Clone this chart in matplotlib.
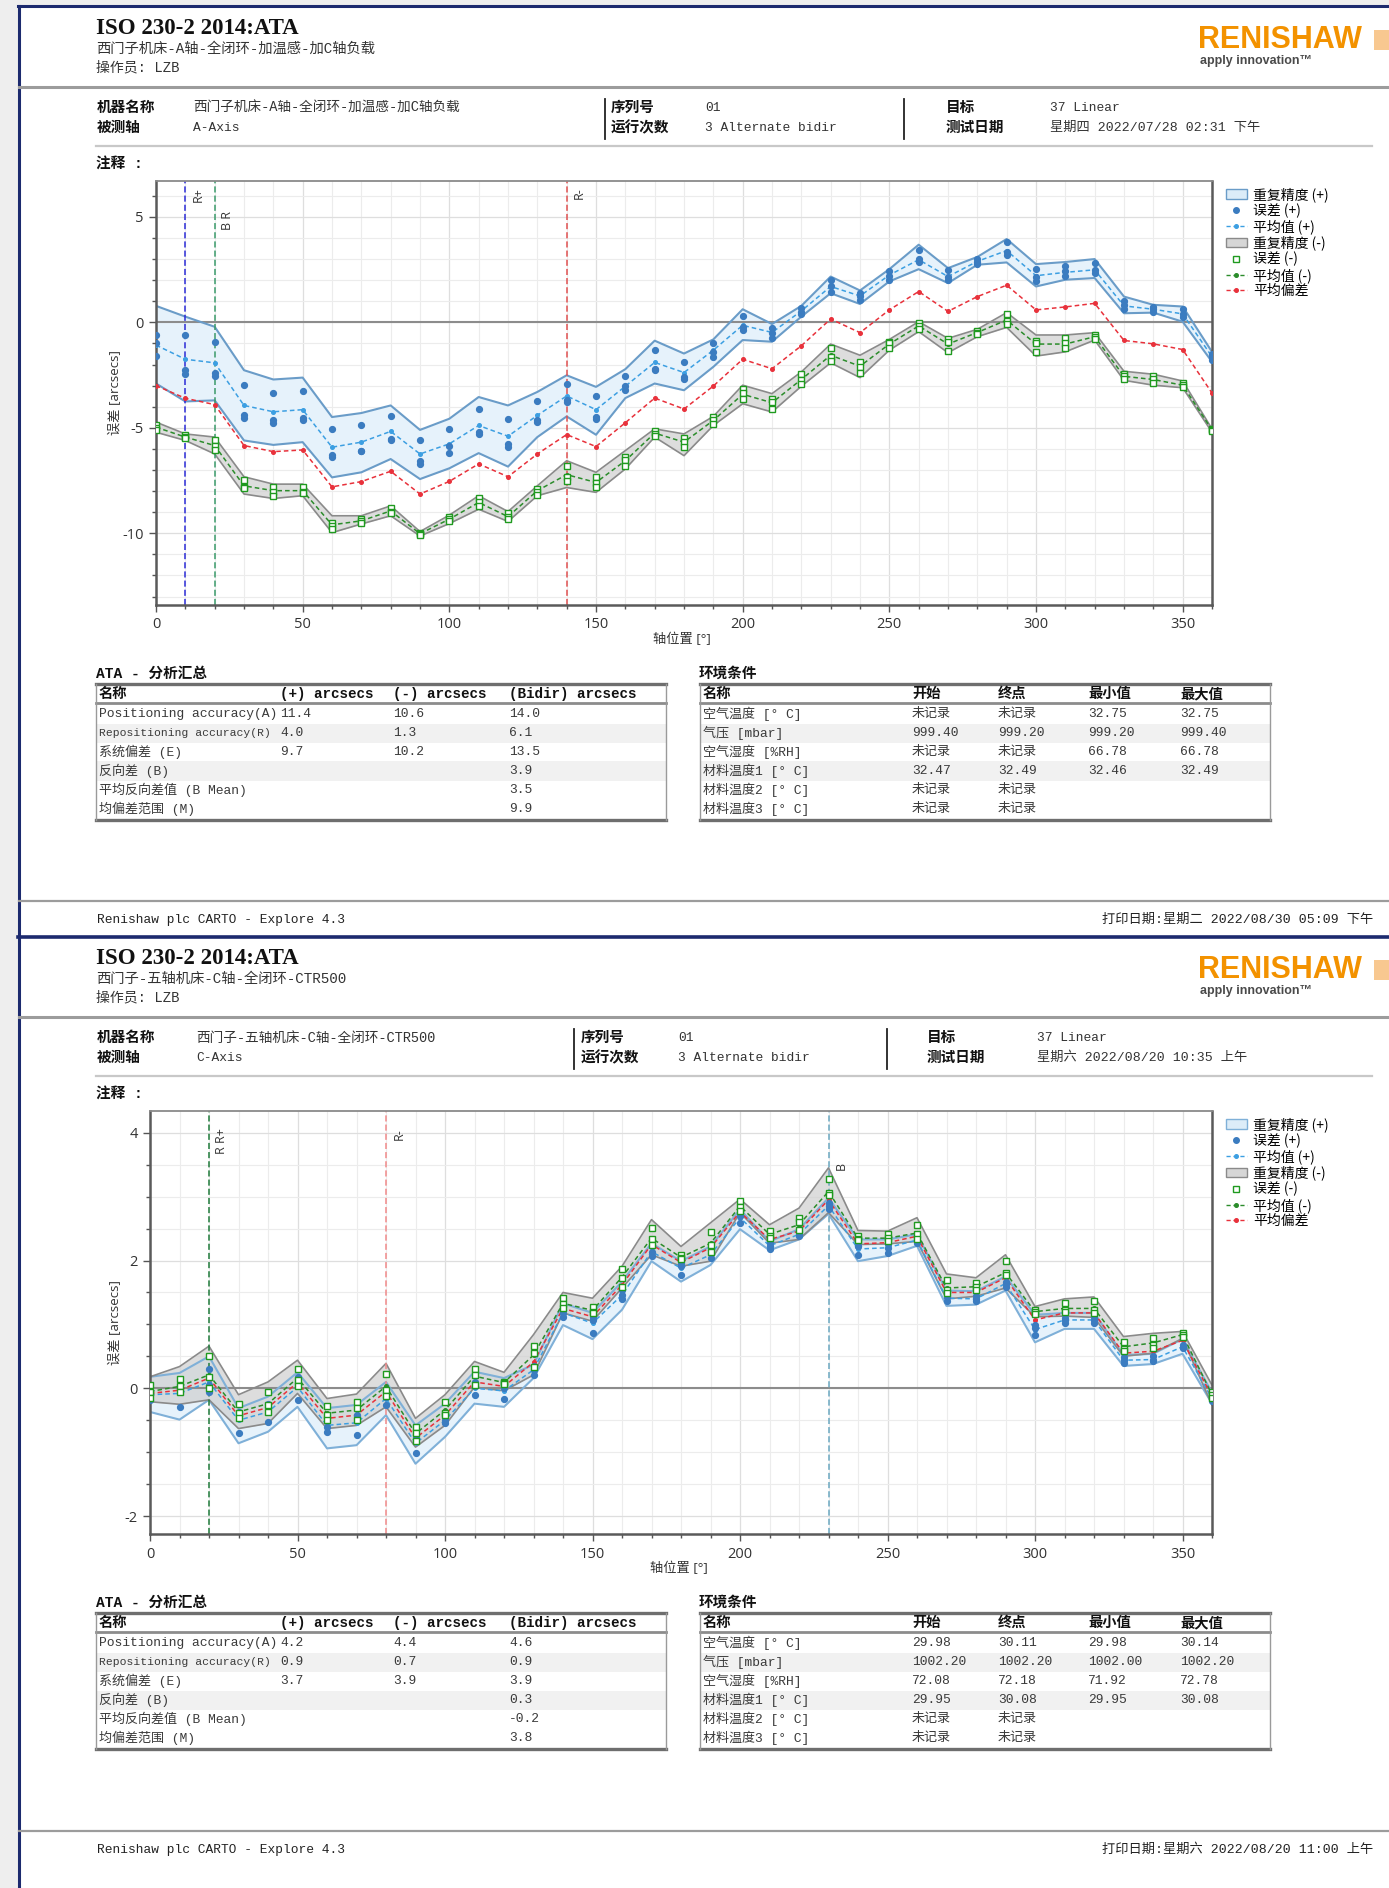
import numpy as np
import matplotlib
matplotlib.use("Agg")
import matplotlib.pyplot as plt
import matplotlib.transforms as mtrans
from matplotlib.lines import Line2D
from matplotlib.patches import Patch, Rectangle
from matplotlib.ticker import MultipleLocator
from matplotlib.font_manager import FontProperties

plt.rcParams['axes.unicode_minus'] = False

W, H = 1389, 1888
MIX = ['Liberation Mono', 'Noto Sans CJK SC']
SANS = ['Open Sans', 'Noto Sans CJK SC']
CJK = ['Noto Sans CJK SC']

# ---------------- data ----------------
POS = [0, 10, 20, 30, 40, 50, 60, 70, 80, 90, 100, 110, 120, 130, 140, 150, 160, 170, 180,
       190, 200, 210, 220, 230, 240, 250, 260, 270, 280, 290, 300, 310, 320, 330, 340, 350, 360]

# A axis (page 1)
a_bias = [-3.0, -3.6, -3.9, -5.84, -6.13, -6.05, -7.8, -7.55, -7.06, -8.14, -7.54, -6.71, -7.32,
          -6.24, -5.32, -5.89, -4.76, -3.59, -4.11, -3.02, -1.75, -2.2, -1.11, 0.16, -0.49, 0.59,
          1.46, 0.52, 1.22, 1.76, 0.59, 0.73, 0.9, -0.86, -1.02, -1.29, -3.35]
a_mean_p = [-1.08, -1.75, -1.92, -3.94, -4.24, -4.14, -5.92, -5.68, -5.17, -6.24, -5.76, -4.89, -5.4,
            -4.41, -3.49, -4.14, -3.03, -1.9, -2.38, -1.32, -0.14, -0.48, 0.54, 1.7, 1.25, 2.24,
            2.97, 2.17, 2.89, 3.4, 2.21, 2.37, 2.49, 0.78, 0.62, 0.4, -1.63]
a_up_p = [0.78, 0.27, -0.21, -2.27, -2.71, -2.62, -4.49, -4.3, -3.94, -5.1, -4.57, -3.54, -3.94,
          -3.3, -2.51, -3.06, -2.22, -0.87, -1.48, -0.81, 0.62, -0.08, 0.78, 2.17, 1.51, 2.52,
          3.68, 2.57, 3.1, 3.95, 2.76, 2.86, 3.0, 1.22, 0.83, 0.75, -1.4]
a_lo_p = [-2.9, -3.75, -3.7, -5.6, -5.81, -5.68, -7.35, -7.11, -6.48, -7.43, -6.92, -6.2, -6.84,
          -5.44, -4.46, -5.33, -3.59, -2.9, -3.22, -2.11, -0.84, -0.92, 0.27, 1.38, 0.87, 1.94,
          2.52, 1.86, 2.73, 2.84, 1.7, 2.02, 2.1, 0.43, 0.46, 0.03, -1.87]
a_mean_m = [-4.97, -5.44, -5.84, -7.75, -7.98, -7.98, -9.6, -9.41, -8.94, -10.02, -9.33, -8.54, -9.21,
            -7.98, -7.22, -7.59, -6.56, -5.25, -5.68, -4.65, -3.41, -3.81, -2.71, -1.56, -2.08, -1.03,
            -0.17, -1.03, -0.48, 0.11, -1.03, -1.03, -0.68, -2.56, -2.71, -2.98, -5.1]
a_up_m = [-4.73, -5.29, -5.44, -7.32, -7.67, -7.67, -9.17, -9.17, -8.7, -9.92, -9.14, -8.22, -8.97,
          -7.75, -6.56, -7.11, -6.08, -5.05, -5.29, -4.46, -2.98, -3.38, -2.35, -1.03, -1.56, -0.81,
          0.03, -0.76, -0.33, 0.46, -0.6, -0.6, -0.49, -2.32, -2.46, -2.78, -5.05]
a_lo_m = [-5.21, -5.6, -6.24, -8.14, -8.35, -8.22, -9.97, -9.56, -9.17, -10.13, -9.54, -8.86, -9.44,
          -8.22, -7.83, -8.06, -6.95, -5.44, -6.32, -4.89, -3.86, -4.25, -3.03, -1.92, -2.62, -1.32,
          -0.44, -1.44, -0.68, -0.24, -1.6, -1.4, -0.84, -2.75, -2.98, -3.1, -5.21]
a_runs_p = [(-0.6, -1.0, -1.6), (-0.6, -2.27, -2.46), (-0.95, -2.38, -2.54), (-2.95, -4.38, -4.52),
            (-3.35, -4.65, -4.76), (-3.25, -4.52, -4.65), (-5.05, -6.29, -6.37), (-4.89, -6.08, -6.1),
            (-4.44, -5.52, -5.6), (-5.57, -6.56, -6.71), (-5.05, -5.85, -6.2), (-4.1, -5.21, -5.29),
            (-4.57, -5.76, -5.89), (-3.75, -4.62, -4.73), (-2.9, -3.67, -3.78), (-3.51, -4.49, -4.57),
            (-2.54, -3.03, -3.22), (-1.32, -2.19, -2.27), (-1.87, -2.59, -2.71), (-1.0, -1.4, -1.63),
            (0.32, -0.21, -0.37), (-0.25, -0.49, -0.76), (0.67, 0.51, 0.4), (2.0, 1.7, 1.45),
            (1.41, 1.25, 1.06), (2.41, 2.21, 2.02), (3.44, 3.0, 2.84), (2.46, 2.17, 2.02),
            (3.0, 2.87, 2.78), (3.79, 3.32, 3.21), (2.52, 2.14, 1.98), (2.65, 2.41, 2.21),
            (2.81, 2.49, 2.33), (1.03, 0.83, 0.62), (0.71, 0.62, 0.51), (0.62, 0.4, 0.24),
            (-1.51, -1.63, -1.79)]
a_runs_m = [(-4.85, -5.0, -5.1), (-5.35, -5.45, -5.5), (-5.6, -5.85, -6.05), (-7.48, -7.79, -7.86),
            (-7.79, -8.06, -8.22), (-7.79, -8.02, -8.11), (-9.49, -9.65, -9.81), (-9.33, -9.41, -9.52),
            (-8.81, -8.97, -9.06), (-9.98, -10.03, -10.06), (-9.25, -9.33, -9.44), (-8.35, -8.54, -8.7),
            (-9.06, -9.21, -9.33), (-7.9, -8.02, -8.17), (-6.8, -7.35, -7.5), (-7.32, -7.63, -7.79),
            (-6.37, -6.52, -6.79), (-5.13, -5.29, -5.37), (-5.5, -5.65, -5.9), (-4.5, -4.65, -4.8),
            (-3.14, -3.35, -3.62), (-3.62, -3.78, -4.1), (-2.45, -2.75, -2.93), (-1.2, -1.65, -1.83),
            (-1.87, -2.11, -2.4), (-0.92, -1.0, -1.24), (-0.05, -0.17, -0.33), (-0.8, -0.95, -1.35),
            (-0.4, -0.49, -0.56), (0.38, 0.08, -0.08), (-0.87, -1.0, -1.4), (-0.76, -1.0, -1.24),
            (-0.6, -0.68, -0.81), (-2.43, -2.56, -2.7), (-2.56, -2.71, -2.86), (-2.87, -2.98, -3.06),
            (-5.05, -5.1, -5.15)]

# C axis (page 2)
c_bias = [-0.08, -0.03, 0.16, -0.43, -0.3, 0.09, -0.47, -0.42, -0.05, -0.78, -0.42, 0.1, 0.03,
          0.41, 1.25, 1.12, 1.62, 2.25, 1.97, 2.2, 2.76, 2.33, 2.46, 2.95, 2.26, 2.28, 2.38, 1.5,
          1.5, 1.73, 1.07, 1.18, 1.18, 0.55, 0.58, 0.75, -0.13]
c_mean_p = [-0.1, -0.08, 0.1, -0.5, -0.37, 0.02, -0.58, -0.54, -0.16, -0.86, -0.5, 0.0, -0.04,
            0.29, 1.18, 1.02, 1.46, 2.14, 1.88, 2.09, 2.67, 2.23, 2.41, 2.86, 2.18, 2.2, 2.32, 1.41,
            1.4, 1.64, 0.92, 1.07, 1.07, 0.44, 0.45, 0.65, -0.16]
c_up_p = [0.18, 0.24, 0.5, -0.31, -0.13, 0.25, -0.31, -0.26, 0.1, -0.58, -0.24, 0.26, 0.16,
          0.37, 1.33, 1.18, 1.67, 2.27, 1.99, 2.22, 2.8, 2.3, 2.49, 2.98, 2.33, 2.33, 2.41, 1.53,
          1.52, 1.75, 1.15, 1.18, 1.18, 0.52, 0.54, 0.77, -0.07]
c_lo_p = [-0.37, -0.49, -0.18, -0.86, -0.68, -0.29, -0.94, -0.89, -0.42, -1.18, -0.76, -0.24, -0.29,
          0.16, 0.99, 0.77, 1.23, 1.99, 1.67, 1.93, 2.49, 2.16, 2.33, 2.73, 1.99, 2.07, 2.23, 1.29,
          1.31, 1.53, 0.72, 0.93, 0.93, 0.35, 0.38, 0.54, -0.24]
c_mean_m = [-0.05, 0.03, 0.21, -0.37, -0.24, 0.16, -0.39, -0.34, 0.03, -0.71, -0.34, 0.19, 0.09,
            0.52, 1.33, 1.22, 1.74, 2.35, 2.05, 2.27, 2.85, 2.41, 2.56, 3.08, 2.35, 2.35, 2.43, 1.57,
            1.59, 1.81, 1.2, 1.25, 1.25, 0.65, 0.71, 0.84, -0.1]
c_up_m = [0.18, 0.34, 0.66, -0.1, 0.1, 0.44, -0.16, -0.09, 0.39, -0.47, -0.1, 0.42, 0.25,
          0.84, 1.5, 1.41, 1.91, 2.64, 2.22, 2.59, 2.96, 2.56, 2.82, 3.45, 2.47, 2.46, 2.67, 1.79,
          1.73, 2.09, 1.28, 1.4, 1.43, 0.81, 0.86, 0.89, 0.05]
c_lo_m = [-0.21, -0.25, -0.18, -0.63, -0.55, -0.08, -0.63, -0.58, -0.29, -0.92, -0.58, 0.02, -0.04,
          0.21, 1.18, 1.05, 1.57, 2.09, 1.91, 1.99, 2.75, 2.27, 2.33, 2.75, 2.25, 2.26, 2.3, 1.4,
          1.44, 1.57, 1.12, 1.13, 1.11, 0.5, 0.55, 0.78, -0.26]
c_runs_p = [(-0.02, -0.1, -0.18), (0.05, 0.0, -0.3), (0.3, 0.05, -0.05), (-0.37, -0.42, -0.7),
            (-0.24, -0.29, -0.52), (0.18, 0.08, -0.18), (-0.44, -0.6, -0.68), (-0.42, -0.44, -0.73),
            (-0.05, -0.13, -0.26), (-0.71, -0.76, -1.01), (-0.39, -0.5, -0.55), (0.1, 0.03, -0.1),
            (0.03, 0.0, -0.16), (0.35, 0.29, 0.21), (1.22, 1.18, 1.12), (1.12, 1.07, 0.87),
            (1.54, 1.46, 1.39), (2.22, 2.14, 2.07), (1.96, 1.92, 1.78), (2.17, 2.12, 2.04),
            (2.72, 2.69, 2.59), (2.27, 2.23, 2.18), (2.44, 2.41, 2.38), (2.9, 2.86, 2.81),
            (2.23, 2.22, 2.08), (2.26, 2.2, 2.12), (2.35, 2.32, 2.27), (1.45, 1.43, 1.36),
            (1.44, 1.4, 1.36), (1.67, 1.64, 1.59), (0.99, 0.94, 0.84), (1.1, 1.07, 1.03),
            (1.11, 1.07, 1.02), (0.49, 0.45, 0.39), (0.5, 0.45, 0.42), (0.68, 0.65, 0.63),
            (-0.12, -0.16, -0.2)]
c_runs_m = [(0.05, -0.05, -0.15), (0.14, 0.04, -0.05), (0.5, 0.18, 0.0), (-0.24, -0.39, -0.47),
            (-0.05, -0.26, -0.37), (0.31, 0.13, 0.03), (-0.28, -0.42, -0.49), (-0.22, -0.31, -0.5),
            (0.22, -0.03, -0.12), (-0.6, -0.7, -0.83), (-0.22, -0.39, -0.42), (0.31, 0.21, 0.05),
            (0.1, 0.08, 0.07), (0.66, 0.55, 0.34), (1.41, 1.32, 1.25), (1.28, 1.2, 1.18),
            (1.86, 1.73, 1.58), (2.51, 2.33, 2.25), (2.09, 2.04, 2.02), (2.44, 2.25, 2.14),
            (2.93, 2.84, 2.77), (2.46, 2.39, 2.35), (2.67, 2.61, 2.47), (3.28, 3.05, 3.02),
            (2.38, 2.34, 2.32), (2.41, 2.35, 2.3), (2.56, 2.41, 2.33), (1.69, 1.54, 1.49),
            (1.65, 1.59, 1.54), (1.99, 1.81, 1.78), (1.22, 1.19, 1.17), (1.33, 1.23, 1.2),
            (1.36, 1.23, 1.18), (0.73, 0.61, 0.59), (0.78, 0.68, 0.63), (0.86, 0.84, 0.81),
            (-0.05, -0.1, -0.15)]

# tables
ata_names = ["Positioning accuracy(A)", "Repositioning accuracy(R)", "系统偏差 (E)",
             "反向差 (B)", "平均反向差值 (B Mean)", "均偏差范围 (M)"]
ata_head = ["名称", "(+) arcsecs", "(-) arcsecs", "(Bidir) arcsecs"]
a_ata_plus = ["11.4", "4.0", "9.7", "", "", ""]
a_ata_minus = ["10.6", "1.3", "10.2", "", "", ""]
a_ata_bidir = ["14.0", "6.1", "13.5", "3.9", "3.5", "9.9"]
c_ata_plus = ["4.2", "0.9", "3.7", "", "", ""]
c_ata_minus = ["4.4", "0.7", "3.9", "", "", ""]
c_ata_bidir = ["4.6", "0.9", "3.9", "0.3", "-0.2", "3.8"]

env_names = ["空气温度 [° C]", "气压 [mbar]", "空气湿度 [%RH]",
             "材料温度1 [° C]", "材料温度2 [° C]", "材料温度3 [° C]"]
env_head = ["名称", "开始", "终点", "最小值", "最大值"]
a_env_start = ["未记录", "999.40", "未记录", "32.47", "未记录", "未记录"]
a_env_end = ["未记录", "999.20", "未记录", "32.49", "未记录", "未记录"]
a_env_min = ["32.75", "999.20", "66.78", "32.46", "", ""]
a_env_max = ["32.75", "999.40", "66.78", "32.49", "", ""]
c_env_start = ["29.98", "1002.20", "72.08", "29.95", "未记录", "未记录"]
c_env_end = ["30.11", "1002.20", "72.18", "30.08", "未记录", "未记录"]
c_env_min = ["29.98", "1002.00", "71.92", "29.95", "", ""]
c_env_max = ["30.14", "1002.20", "72.78", "30.08", "", ""]

# ---------------- helpers ----------------
fig = plt.figure(figsize=(W / 100, H / 100), dpi=100)
fig.patch.set_facecolor('white')


def fx(x):
    return x / W


def fy(y):
    return 1 - y / H


def put(x, y, s, size=9.5, weight='normal', color='#333333', ha='left', family=MIX, **kw):
    return fig.text(fx(x), fy(y), s, fontsize=size, fontweight=weight, color=color,
                    ha=ha, va='center', family=family, **kw)


def hline(y, x0, x1, color, lw):
    fig.add_artist(Line2D([fx(x0), fx(x1)], [fy(y), fy(y)], color=color, lw=lw,
                          transform=fig.transFigure))


def vline(x, y0, y1, color, lw):
    fig.add_artist(Line2D([fx(x), fx(x)], [fy(y0), fy(y1)], color=color, lw=lw,
                          transform=fig.transFigure))


def rect(x0, y0, x1, y1, color):
    fig.add_artist(Rectangle((fx(x0), fy(y1)), fx(x1) - fx(x0), fy(y0) - fy(y1),
                             facecolor=color, edgecolor='none', transform=fig.transFigure, zorder=0))


def draw_header(off, subtitle, machine, axis_name, test_date, cols):
    put(96, 29 + off, 'ISO 230-2 2014:ATA', size=16.5, weight='bold', color='#111111',
        family=['Liberation Serif'])
    put(96, 49 + off, subtitle, size=10.3)
    put(96, 67 + off, '操作员: LZB', size=10)
    put(1198, 40 + off, 'RENISHAW', size=22, weight='bold', color='#f39200', family=['Liberation Sans'])
    rect(1374, 30 + off, 1389, 50 + off, '#f8c890')
    put(1200, 61 + off, 'apply innovation\u2122', size=9, weight='bold', color='#4a4a4a',
        family=['Liberation Sans'])
    hline(87 + off, 19, W, '#9c9c9c', 2.2)
    lab, val, sep1, sn, snv, sep2, tg, tgv = cols
    put(lab, 108 + off, '机器名称', size=10.5, weight='bold', color='#111111')
    put(lab, 128 + off, '被测轴', size=10.5, weight='bold', color='#111111')
    put(val, 108 + off, machine, size=9.8)
    put(val, 128 + off, axis_name, size=9.3)
    vline(sep1, 99 + off, 139 + off, '#222222', 1.3)
    put(sn, 108 + off, '序列号', size=10.5, weight='bold', color='#111111')
    put(sn, 128 + off, '运行次数', size=10.5, weight='bold', color='#111111')
    put(snv, 108 + off, '01', size=9.3)
    put(snv, 128 + off, '3 Alternate bidir', size=9.3)
    vline(sep2, 99 + off, 139 + off, '#222222', 1.3)
    put(tg, 108 + off, '目标', size=10.5, weight='bold', color='#111111')
    put(tg, 128 + off, '测试日期', size=10.5, weight='bold', color='#111111')
    put(tgv, 108 + off, '37 Linear', size=9.3)
    put(tgv, 128 + off, test_date, size=9.5)
    hline(146 + off, 96, 1372, '#c8c8c8', 1.6)
    put(96, 164 + off, '注释 :', size=10.5, weight='bold', color='#111111')


def draw_footer(off, print_date):
    hline(901 + off, 19, W, '#9c9c9c', 1.6)
    put(97, 920 + off, 'Renishaw plc CARTO - Explore 4.3', size=9.3, color='#222222')
    put(1102, 920 + off, print_date, size=9.5, color='#222222')


def draw_chart(box, ylim, ymaj, ymin, runs_p, mean_p, up_p, lo_p, runs_m, mean_m, up_m, lo_m,
               bias, marks, edge_p):
    x0, y0, x1, y1 = box
    ax = fig.add_axes([fx(x0), fy(y1), fx(x1) - fx(x0), fy(y0) - fy(y1)])
    ax.set_xlim(0, 360)
    ax.set_ylim(*ylim)
    ax.xaxis.set_major_locator(MultipleLocator(50))
    ax.xaxis.set_minor_locator(MultipleLocator(10))
    ax.yaxis.set_major_locator(MultipleLocator(ymaj))
    ax.yaxis.set_minor_locator(MultipleLocator(ymin))
    ax.grid(which='major', color='#dedede', lw=0.9)
    ax.grid(which='minor', color='#ececec', lw=0.8)
    ax.set_axisbelow(True)
    ax.axhline(0, color='#8c8c8c', lw=1.5, zorder=1.5)

    ax.fill_between(POS, lo_p, up_p, color='#e6f2fb', lw=0, zorder=1)
    ax.fill_between(POS, lo_m, up_m, color='#cfcfcf', alpha=0.7, lw=0, zorder=1.2)
    ax.plot(POS, up_p, color=edge_p, lw=1.5, zorder=2)
    ax.plot(POS, lo_p, color=edge_p, lw=1.5, zorder=2)
    ax.plot(POS, up_m, color='#8a8a8a', lw=1.2, zorder=2)
    ax.plot(POS, lo_m, color='#8a8a8a', lw=1.2, zorder=2)

    for xv, label, col, ytop in marks:
        ax.axvline(xv, color=col, ls=(0, (4, 2)), lw=1.1, zorder=2.5)
        tr = mtrans.blended_transform_factory(ax.transData, ax.transAxes)
        ax.text(xv + 2.2, ytop, label, transform=tr, rotation=90, ha='left', va='top',
                fontsize=9, family=SANS, color='#333333')

    ax.plot(POS, mean_p, ls=(0, (3, 2)), color='#3c9fe2', lw=1.1, marker='o', ms=2.6, zorder=3)
    ax.plot(POS, mean_m, ls=(0, (3, 2)), color='#2b8c2b', lw=1.1, marker='o', ms=2.6, zorder=3)
    ax.plot(POS, bias, ls=(0, (3, 2)), color='#e8313b', lw=1.1, marker='o', ms=2.6, zorder=3)
    xs = np.repeat(POS, 3)
    ax.plot(xs, np.ravel(runs_p), ls='none', marker='o', ms=4.2, color='#3b7cc0', zorder=4)
    ax.plot(xs, np.ravel(runs_m), ls='none', marker='s', ms=4.2, mfc='white', mec='#1f9a1f',
            mew=1.0, zorder=4)

    for s in ['left', 'bottom', 'right']:
        ax.spines[s].set_color('#5a5a5a')
        ax.spines[s].set_linewidth(1.8)
    ax.spines['top'].set_color('#8a8a8a')
    ax.spines['top'].set_linewidth(1.3)
    ax.tick_params(which='major', direction='out', length=5, width=1, color='#555555',
                   labelsize=10.5, labelcolor='#333333', pad=4)
    ax.tick_params(which='minor', direction='out', length=3, width=1, color='#555555')
    for lab in ax.get_xticklabels() + ax.get_yticklabels():
        lab.set_family(SANS)

    handles = [Patch(facecolor='#dcecf8', edgecolor=edge_p, label='重复精度 (+)'),
               Line2D([], [], ls='none', marker='o', ms=4, color='#3b7cc0', label='误差 (+)'),
               Line2D([], [], ls=(0, (3, 2)), marker='o', ms=2.6, lw=1, color='#3c9fe2', label='平均值 (+)'),
               Patch(facecolor='#d6d6d6', edgecolor='#8a8a8a', label='重复精度 (-)'),
               Line2D([], [], ls='none', marker='s', ms=4, mfc='white', mec='#1f9a1f', label='误差 (-)'),
               Line2D([], [], ls=(0, (3, 2)), marker='o', ms=2.6, lw=1, color='#2b8c2b', label='平均值 (-)'),
               Line2D([], [], ls=(0, (3, 2)), marker='o', ms=2.6, lw=1, color='#e8313b', label='平均偏差')]
    ax.legend(handles=handles, loc='upper left', bbox_to_anchor=(fx(1226), fy(y0 + 6)),
              bbox_transform=fig.transFigure, frameon=False, borderpad=0, borderaxespad=0,
              prop=FontProperties(family=CJK, size=10), labelspacing=0.1, handlelength=1.5,
              handleheight=0.7, handletextpad=0.45)

    put((x0 + x1) / 2 - 2, y1 + 34, '轴位置 [°]', size=9.5, family=SANS, color='#333333', ha='center')
    fig.text(fx(115), fy((y0 + y1) / 2), '误差 [arcsecs]', rotation=90, ha='center', va='center',
             fontsize=9.5, family=SANS, color='#333333')
    return ax


def draw_tables(off, ata_cols, env_cols):
    ytop = 684 + off
    head_y = 694 + off
    head_line = 703 + off
    rows = [714, 733, 752, 771, 790, 809]
    bottom = 820 + off
    put(96, 674 + off, 'ATA - 分析汇总', size=10.5, weight='bold', color='#111111')
    put(699, 674 + off, '环境条件', size=10.5, weight='bold', color='#111111')
    for (xa, xb, heads, hx, names, cols, cx) in [
            (96, 666, ata_head, [99, 280, 393, 509], ata_names, ata_cols, [280, 393, 509]),
            (700, 1270, env_head, [703, 912, 998, 1088, 1180], env_names, env_cols,
             [912, 998, 1088, 1180])]:
        for i in (1, 3):
            rect(xa, rows[i] + off - 9.5, xb, rows[i] + off + 9.5, '#f1f1f1')
        hline(ytop, xa, xb, '#6e6e6e', 2.4)
        hline(head_line, xa, xb, '#8c8c8c', 2.0)
        hline(bottom, xa, xb, '#6e6e6e', 2.4)
        vline(xa, ytop, bottom, '#9a9a9a', 1.0)
        vline(xb, ytop, bottom, '#9a9a9a', 1.0)
        for h, x in zip(heads, hx):
            put(x, head_y, h, size=10.3, weight='bold', color='#111111')
        for i, name in enumerate(names):
            size = 8.2 if name.startswith('Repositioning') else 9.4
            put(xa + 3, rows[i] + off, name, size=size, color='#3a3a3a')
            for col, x in zip(cols, cx):
                if col[i]:
                    put(x, rows[i] + off, col[i], size=9.4, color='#3a3a3a')


# ---------------- page frame ----------------
rect(0, 0, 18, H, '#eeeeee')
rect(0, 0, W, 6, '#eeeeee')
vline(18.5, 6, H, '#1c2a6e', 2.2)
hline(6, 18, W, '#1c2a6e', 2.2)
hline(937, 18, W, '#1c2a6e', 2.6)

# ---------------- page 1 ----------------
draw_header(0, '西门子机床-A轴-全闭环-加温感-加C轴负载', '西门子机床-A轴-全闭环-加温感-加C轴负载',
            'A-Axis', '星期四 2022/07/28 02:31 下午', (97, 193, 605, 611, 705, 904, 946, 1050))
draw_chart((156, 181, 1212, 605), (-13.4, 6.7), 5, 1,
           a_runs_p, a_mean_p, a_up_p, a_lo_p, a_runs_m, a_mean_m, a_up_m, a_lo_m, a_bias,
           [(10, 'R+', '#2b2bd6', 0.985), (20, 'B R', '#3a9a6a', 0.93), (140, 'R-', '#e05050', 0.985)],
           '#6a9cc8')
draw_tables(0, [a_ata_plus, a_ata_minus, a_ata_bidir], [a_env_start, a_env_end, a_env_min, a_env_max])
draw_footer(0, '打印日期:星期二 2022/08/30 05:09 下午')

# ---------------- page 2 ----------------
OFF = 930
draw_header(OFF, '西门子-五轴机床-C轴-全闭环-CTR500', '西门子-五轴机床-C轴-全闭环-CTR500',
            'C-Axis', '星期六 2022/08/20 10:35 上午', (97, 196, 574, 581, 678, 887, 927, 1037))
draw_chart((150, 1111, 1212, 1534), (-2.28, 4.34), 2, 0.5,
           c_runs_p, c_mean_p, c_up_p, c_lo_p, c_runs_m, c_mean_m, c_up_m, c_lo_m, c_bias,
           [(20, 'R R+', '#1f7a3a', 0.96), (80, 'R-', '#f08a8a', 0.96), (230, 'B', '#6aa8c0', 0.88)],
           '#7fb0d8')
draw_tables(OFF - 1, [c_ata_plus, c_ata_minus, c_ata_bidir], [c_env_start, c_env_end, c_env_min, c_env_max])
draw_footer(OFF, '打印日期:星期六 2022/08/20 11:00 上午')

fig.savefig('out.png', dpi=100)
